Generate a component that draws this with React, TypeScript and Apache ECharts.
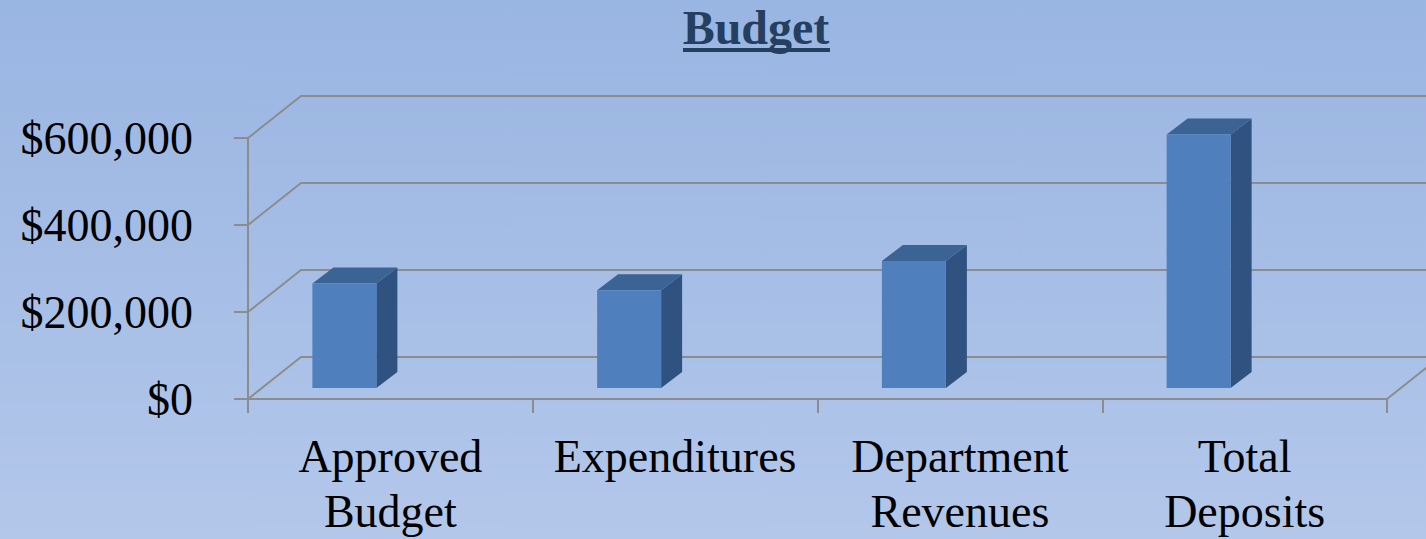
import React, { useEffect, useRef } from "react";
import * as echarts from "echarts";

const categories = ["Approved\nBudget", "Expenditures", "Department\nRevenues", "Total\nDeposits"];
const values = [240000, 225000, 292000, 583000];
const yTicks = [0, 200000, 400000, 600000];

const DEPTH_DX = 53;
const DEPTH_DY = -42;
const BAR_SHIFT = -46;
const BAR_LIFT = 11;
const BAR_W = 64;
const BAR_DX = 21;
const BAR_DY = -16;
const GRID_COLOR = "#8c8c8c";

export default function App() {
  const ref = useRef<HTMLDivElement>(null);
  useEffect(() => {
    if (!ref.current) return;
    const chart = echarts.init(ref.current, null, { renderer: "svg" });
    const font = "'Liberation Serif', 'Times New Roman', serif";
    chart.setOption({
      animation: false,
      backgroundColor: {
        type: "linear", x: 0, y: 0, x2: 0, y2: 1,
        colorStops: [
          { offset: 0, color: "#99b5e2" },
          { offset: 1, color: "#b3c7ea" },
        ],
      },
      graphic: [
        {
          type: "text", x: 756, y: 27,
          style: { text: "Budget", fontFamily: font, fontSize: 48, fontWeight: "bold", fill: "#243f60", align: "center", verticalAlign: "middle" },
        },
        { type: "rect", shape: { x: 683, y: 48, width: 147, height: 4 }, style: { fill: "#243f60" } },
      ],
      grid: { left: 248, right: 39, top: 138, bottom: 134, containLabel: false },
      xAxis: {
        type: "category",
        data: categories,
        boundaryGap: true,
        axisLine: { show: true, lineStyle: { color: GRID_COLOR, width: 2 } },
        axisTick: { show: true, length: 14, lineStyle: { color: GRID_COLOR, width: 2 } },
        axisLabel: { color: "#000", fontFamily: font, fontSize: 46, lineHeight: 55, margin: 30, interval: 0 },
        splitLine: { show: false },
      },
      yAxis: {
        type: "value",
        min: 0, max: 600000, interval: 200000,
        axisLine: { show: true, lineStyle: { color: GRID_COLOR, width: 2 } },
        axisTick: { show: true, length: 14, lineStyle: { color: GRID_COLOR, width: 2 } },
        axisLabel: {
          color: "#000", fontFamily: font, fontSize: 46, margin: 55,
          formatter: (v: number) => "$" + v.toLocaleString("en-US"),
        },
        splitLine: { show: false },
      },
      series: [
        {
          type: "custom",
          z: 1,
          data: yTicks.map((v) => [0, v]),
          renderItem: (params: any, api: any) => {
            const cs = params.coordSys;
            const v = api.value(1);
            const y = api.coord([0, v])[1];
            const x0 = cs.x;
            const children: any[] = [
              {
                type: "polyline",
                shape: { points: [[x0, y], [x0 + DEPTH_DX, y + DEPTH_DY], [cs.x + cs.width + 200, y + DEPTH_DY]] },
                style: { stroke: GRID_COLOR, lineWidth: 2, fill: "none" },
              },
            ];
            if (v === 0) {
              const xr = cs.x + cs.width;
              children.push({
                type: "line",
                shape: { x1: xr, y1: y, x2: xr + DEPTH_DX, y2: y + DEPTH_DY },
                style: { stroke: GRID_COLOR, lineWidth: 2 },
              });
            }
            return { type: "group", children };
          },
        },
        {
          type: "custom",
          z: 3,
          data: values.map((v, i) => [i, v]),
          renderItem: (params: any, api: any) => {
            const i = api.value(0);
            const v = api.value(1);
            const base = api.coord([i, 0]);
            const top = api.coord([i, v]);
            const cx = base[0] + BAR_SHIFT;
            const xl = cx - BAR_W / 2;
            const xr = cx + BAR_W / 2;
            const yb = base[1] - BAR_LIFT;
            const yt = top[1] - BAR_LIFT;
            return {
              type: "group",
              children: [
                {
                  type: "polygon",
                  shape: { points: [[xr, yb], [xr + BAR_DX, yb + BAR_DY], [xr + BAR_DX, yt + BAR_DY], [xr, yt]] },
                  style: { fill: "#2f5280" },
                },
                {
                  type: "polygon",
                  shape: { points: [[xl, yt], [xl + BAR_DX, yt + BAR_DY], [xr + BAR_DX, yt + BAR_DY], [xr, yt]] },
                  style: { fill: "#3b6393" },
                },
                {
                  type: "rect",
                  shape: { x: xl, y: yt, width: BAR_W, height: yb - yt },
                  style: { fill: "#4f80bd" },
                },
              ],
            };
          },
        },
      ],
    });
    return () => chart.dispose();
  }, []);
  return <div ref={ref} style={{ position: "fixed", left: 0, top: 0, width: 1426, height: 539 }} />;
}
